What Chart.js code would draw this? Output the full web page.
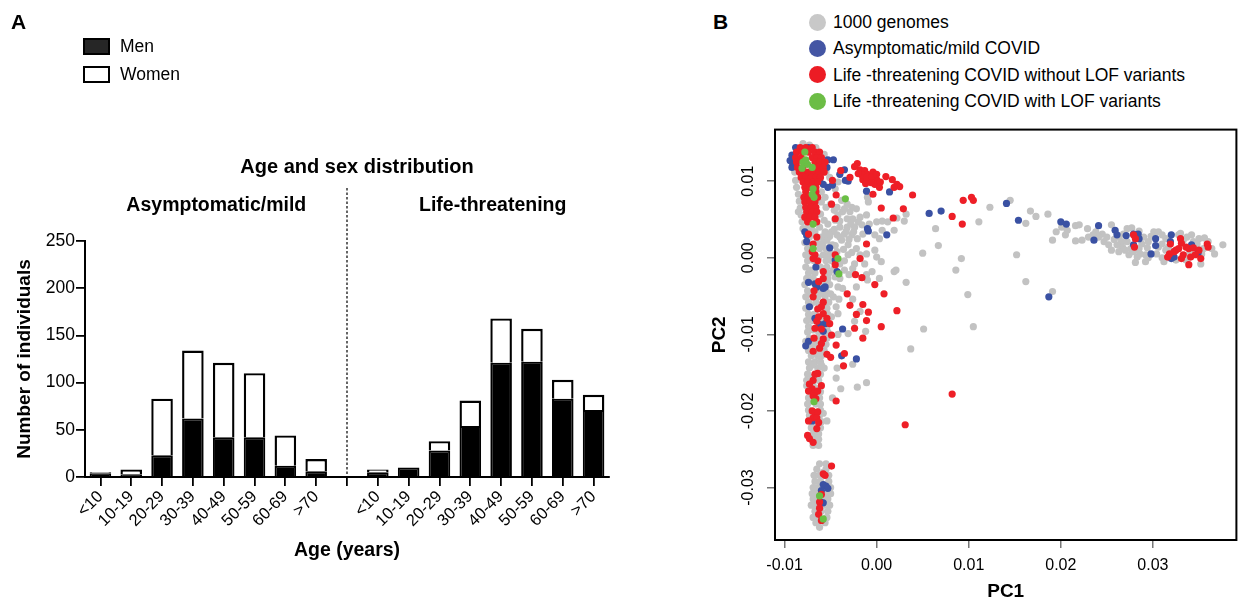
<!DOCTYPE html>
<html>
<head>
<meta charset="utf-8">
<script src="https://cdn.jsdelivr.net/npm/chart.js@4.4.0/dist/chart.umd.min.js"></script>
<style>
  body { margin: 0; background: #fff; font-family: "Liberation Sans", Arial, sans-serif; color: #000; }
  #wrap { position: relative; width: 1240px; height: 603px; overflow: hidden; }
  canvas { position: absolute; }
  .panel { position: absolute; font-weight: bold; font-size: 21px; }
  .leg { position: absolute; font-size: 17.5px; line-height: 20px; white-space: nowrap; }
  .box { position: absolute; width: 23px; height: 13px; border: 2px solid #000; }
  .dot { position: absolute; width: 17px; height: 17px; border-radius: 50%; }
</style>
</head>
<body>
<div id="wrap">
  <canvas id="ageChart" width="680" height="603" style="left:0;top:0"></canvas>
  <canvas id="pcaChart" width="540" height="483" style="left:700px;top:120px"></canvas>

  <div class="panel" style="left:11px;top:10px">A</div>
  <div class="panel" style="left:713px;top:10px">B</div>

  <div class="box" style="left:83px;top:38px;background:#262626"></div>
  <div class="leg" style="left:120px;top:36px">Men</div>
  <div class="box" style="left:83px;top:66px;background:#fff"></div>
  <div class="leg" style="left:120px;top:64px">Women</div>

  <div class="dot" style="left:809px;top:14px;background:#c8c8c8"></div>
  <div class="leg" style="left:833px;top:12px">1000 genomes</div>
  <div class="dot" style="left:809px;top:40px;background:#4456a4"></div>
  <div class="leg" style="left:833px;top:38px">Asymptomatic/mild COVID</div>
  <div class="dot" style="left:809px;top:66px;background:#ec1c24"></div>
  <div class="leg" style="left:833px;top:65px">Life -threatening COVID without LOF variants</div>
  <div class="dot" style="left:809px;top:93px;background:#6cbd45"></div>
  <div class="leg" style="left:833px;top:91px">Life -threatening COVID with LOF variants</div>
</div>
<script>
// Panel A: counts per age group
const ageGroups = ["<10", "10-19", "20-29", "30-39", "40-49", "50-59", "60-69", ">70"];
const groupNames = ["Asymptomatic/mild", "Life-threatening"];
const menMild = [4, 3, 23, 62, 42, 42, 12, 6];
const womenMild = [1, 5, 60, 72, 79, 68, 32, 13];
const menSevere = [5, 10, 28, 54, 121, 122, 83, 71];
const womenSevere = [3, 0, 10, 27, 47, 35, 20, 16];
const countTicks = [0, 50, 100, 150, 200, 250];

// Panel B: principal components [PC1, PC2]
const pc1Ticks = [-0.01, 0, 0.01, 0.02, 0.03];
const pc2Ticks = [-0.03, -0.02, -0.01, 0, 0.01];

const genomes1000 = [
  [-0.0080,0.0149],[-0.0073,0.0147],[-0.0066,0.0144],[-0.0063,0.0136],[-0.0057,0.0135],
  [-0.0089,0.0112],[-0.0088,0.0101],[-0.0087,0.0092],[-0.0085,0.0083],[-0.0084,0.0074],[-0.0083,0.0065],
  [-0.0082,0.0056],[-0.0081,0.0047],[-0.0080,0.0038],[-0.0085,0.0060],[-0.0081,0.0075],
  [-0.0055,0.0112],[-0.0051,0.0105],[-0.0060,0.0086],[-0.0056,0.0079],[-0.0060,0.0073],[-0.0055,0.0066],
  [-0.0061,0.0057],[-0.0057,0.0049],[-0.0062,0.0040],[-0.0070,0.0036],[-0.0075,0.0039],[-0.0067,0.0034],
  [-0.0042,0.0099],[-0.0045,0.0090],
  [-0.0050,0.0070],[-0.0043,0.0066],[-0.0038,0.0075],[-0.0032,0.0070],[-0.0027,0.0066],[-0.0022,0.0064],
  [-0.0029,0.0060],[-0.0037,0.0060],[-0.0042,0.0056],[-0.0032,0.0051],[-0.0026,0.0051],[-0.0018,0.0053],
  [-0.0011,0.0056],[-0.0045,0.0049],[-0.0053,0.0044],[-0.0040,0.0040],[-0.0032,0.0040],[-0.0024,0.0040],
  [-0.0016,0.0043],[-0.0008,0.0044],[0.0000,0.0047],[0.0006,0.0048],[0.0012,0.0047],[0.0019,0.0036],
  [0.0032,0.0057],[-0.0009,0.0073],[-0.0010,0.0079],
  [-0.0056,0.0034],[-0.0049,0.0034],[-0.0043,0.0030],[-0.0035,0.0031],[-0.0027,0.0030],[-0.0021,0.0025],
  [-0.0015,0.0031],[-0.0002,0.0030],[0.0003,0.0025],[-0.0038,0.0023],[-0.0054,0.0023],[-0.0048,0.0017],
  [-0.0031,0.0017],[-0.0022,0.0012],[-0.0011,0.0005],[-0.0002,0.0010],[-0.0043,0.0008],[-0.0031,0.0004],
  [-0.0040,-0.0008],[-0.0024,-0.0008],[-0.0013,-0.0008],[0.0000,0.0001],[0.0005,-0.0005],[-0.0035,-0.0016],
  [-0.0026,-0.0014],[-0.0011,-0.0022],[-0.0005,-0.0018],[0.0019,-0.0018],[0.0003,-0.0027],[-0.0040,-0.0027],
  [-0.0037,-0.0040],[-0.0022,-0.0038],[-0.0010,-0.0029],[-0.0041,-0.0054],[-0.0026,-0.0054],[-0.0018,-0.0070],
  [-0.0042,-0.0073],[-0.0024,-0.0083],
  [-0.0046,0.0062],[-0.0035,0.0064],[-0.0040,0.0048],[-0.0028,0.0045],[-0.0020,0.0047],[-0.0046,0.0037],
  [-0.0033,0.0035],[-0.0025,0.0034],[-0.0051,0.0028],[-0.0040,0.0027],[-0.0030,0.0024],[-0.0045,0.0016],
  [-0.0036,0.0011],[-0.0050,0.0006],[-0.0027,0.0007],[-0.0035,-0.0004],[-0.0018,0.0004],[-0.0030,-0.0022],
  [-0.0046,-0.0014],
  [0.0050,0.0006],[0.0067,0.0016],[0.0064,0.0038],[0.0092,-0.0001],[0.0086,-0.0016],[0.0099,-0.0048],
  [0.0105,-0.0090],[0.0111,0.0047],[0.0123,0.0066],[0.0021,-0.0016],[0.0006,0.0036],[0.0022,0.0052],
  [0.0030,0.0048],[0.0032,-0.0032],[0.0051,-0.0093],[0.0037,-0.0119],
  [0.0145,0.0075],[0.0167,0.0061],[0.0173,0.0054],[0.0162,0.0045],[0.0186,0.0057],[0.0152,0.0004],
  [0.0162,-0.0031],[0.0191,-0.0044],[0.0191,0.0023],[0.0195,0.0034],[0.0201,0.0040],
  [-0.0012,-0.0096],[-0.0031,-0.0099],[-0.0042,-0.0100],[-0.0026,-0.0139],[-0.0043,-0.0144],[-0.0044,-0.0157],
  [-0.0039,-0.0171],[-0.0021,-0.0169],[-0.0011,-0.0163],[-0.0048,-0.0183],[-0.0054,-0.0213],
  [0.0205,0.0030],[0.0207,0.0036],[0.0216,0.0042],[0.0220,0.0043],[0.0216,0.0022],[0.0223,0.0023],
  [0.0229,0.0038],[0.0238,0.0034],[0.0245,0.0031],[0.0250,0.0027],[0.0255,0.0043],[0.0255,0.0010],
  [0.0263,0.0027],[0.0266,0.0021],[0.0272,0.0038],[0.0277,0.0039],[0.0267,0.0014],[0.0274,0.0004],
  [0.0281,-0.0006],[0.0292,-0.0005],[0.0288,0.0018],[0.0294,0.0013],[0.0301,0.0034],[0.0306,0.0034],
  [0.0310,0.0018],[0.0314,0.0010],[0.0310,0.0000],[0.0328,0.0030],[0.0337,0.0027],[0.0336,-0.0003],
  [0.0342,0.0030],[0.0350,0.0025],[0.0356,0.0026],[0.0352,-0.0008],[0.0364,0.0012],[0.0367,0.0005],
  [0.0376,0.0017],[0.0285,0.0012],[0.0276,0.0012],[0.0295,0.0021],[0.0314,0.0025],[0.0355,0.0012],
  [0.0304,0.0005],[0.0292,0.0004],[0.0283,0.0001],[0.0261,0.0017],[0.0252,0.0017],[0.0241,0.0027],
  [0.0263,0.0008],[0.0230,0.0027],[0.0247,0.0021],[0.0268,0.0031],[0.0290,0.0027],[0.0306,0.0014],
  [0.0317,0.0014],[0.0333,0.0023],[0.0344,0.0021],[0.0360,0.0021],[0.0353,0.0005],[0.0325,-0.0003],
  [0.0312,-0.0005],[0.0295,0.0000],[0.0272,0.0021],[0.0279,0.0008],
  [0.0235,0.0030],[0.0258,0.0024],[0.0270,0.0010],[0.0286,0.0005],[0.0298,0.0028],[0.0320,0.0008],
  [0.0340,0.0006],[0.0348,0.0018],[0.0330,0.0032],[0.0310,0.0030],[0.0285,0.0035],
  [-0.0073,0.0027],[-0.0060,0.0027],[-0.0053,0.0027],[-0.0078,0.0020],[-0.0065,0.0020],[-0.0058,0.0020],
  [-0.0075,0.0012],[-0.0062,0.0012],[-0.0055,0.0012],[-0.0077,0.0004],[-0.0058,0.0004],[-0.0052,0.0004],
  [-0.0075,-0.0004],[-0.0068,-0.0004],[-0.0055,-0.0004],[-0.0049,-0.0004],[-0.0077,-0.0012],[-0.0061,-0.0012],
  [-0.0054,-0.0012],[-0.0074,-0.0020],[-0.0067,-0.0020],[-0.0052,-0.0020],[-0.0076,-0.0027],[-0.0069,-0.0027],
  [-0.0053,-0.0027],[-0.0078,-0.0035],[-0.0060,-0.0035],[-0.0051,-0.0035],[-0.0075,-0.0043],[-0.0062,-0.0043],
  [-0.0055,-0.0043],[-0.0077,-0.0051],[-0.0064,-0.0051],[-0.0056,-0.0051],[-0.0074,-0.0058],[-0.0066,-0.0058],
  [-0.0052,-0.0058],[-0.0077,-0.0066],[-0.0054,-0.0066],[-0.0074,-0.0074],[-0.0068,-0.0074],[-0.0053,-0.0074],
  [-0.0076,-0.0082],[-0.0070,-0.0082],[-0.0058,-0.0082],[-0.0074,-0.0090],[-0.0064,-0.0090],[-0.0054,-0.0090],
  [-0.0075,-0.0097],[-0.0063,-0.0097],[-0.0053,-0.0097],[-0.0073,-0.0105],[-0.0064,-0.0105],[-0.0054,-0.0105],
  [-0.0070,-0.0113],[-0.0066,-0.0113],[-0.0055,-0.0113],[-0.0074,-0.0121],[-0.0065,-0.0121],[-0.0057,-0.0121],
  [-0.0071,-0.0128],[-0.0064,-0.0128],[-0.0060,-0.0128],[-0.0074,-0.0136],[-0.0067,-0.0136],[-0.0061,-0.0136],
  [-0.0073,-0.0144],[-0.0064,-0.0144],[-0.0057,-0.0144],[-0.0075,-0.0152],[-0.0061,-0.0152],[-0.0076,-0.0160],
  [-0.0063,-0.0160],[-0.0076,-0.0167],[-0.0069,-0.0167],[-0.0070,-0.0175],[-0.0061,-0.0175],[-0.0074,-0.0183],
  [-0.0062,-0.0183],[-0.0075,-0.0191],[-0.0066,-0.0191],[-0.0061,-0.0191],[-0.0074,-0.0199],[-0.0061,-0.0199],
  [-0.0073,-0.0206],[-0.0062,-0.0206],[-0.0067,-0.0214],[-0.0060,-0.0214],[-0.0071,-0.0222],[-0.0061,-0.0222],
  [-0.0069,-0.0230],[-0.0063,-0.0230],[-0.0066,-0.0237],[-0.0063,-0.0237],[-0.0069,-0.0245],[-0.0063,-0.0245],
  [-0.0045,-0.0025],[-0.0042,-0.0038],[-0.0047,-0.0051],[-0.0044,-0.0064],[-0.0049,-0.0077],
  [-0.0068,0.0031],[-0.0056,0.0031],[-0.0071,0.0016],[-0.0060,0.0016],[-0.0050,0.0016],
  [-0.0072,0.0000],[-0.0063,0.0000],[-0.0053,0.0000],[-0.0072,-0.0016],[-0.0058,-0.0016],[-0.0047,-0.0016],
  [-0.0072,-0.0031],[-0.0064,-0.0031],[-0.0056,-0.0031],[-0.0071,-0.0047],[-0.0058,-0.0047],[-0.0050,-0.0047],
  [-0.0072,-0.0062],[-0.0062,-0.0062],[-0.0058,-0.0062],[-0.0072,-0.0078],[-0.0062,-0.0078],[-0.0056,-0.0078],
  [-0.0069,-0.0094],[-0.0059,-0.0094],[-0.0077,-0.0109],[-0.0069,-0.0109],[-0.0059,-0.0109],
  [-0.0068,-0.0125],[-0.0062,-0.0125],[-0.0070,-0.0140],[-0.0060,-0.0140],[-0.0070,-0.0156],[-0.0066,-0.0156],
  [-0.0073,-0.0171],[-0.0065,-0.0171],[-0.0071,-0.0187],[-0.0065,-0.0187],[-0.0069,-0.0203],[-0.0058,-0.0203],
  [-0.0070,-0.0218],[-0.0064,-0.0218],[-0.0072,-0.0234],[-0.0067,-0.0234],
  [-0.0062,-0.0269],[-0.0055,-0.0269],[-0.0065,-0.0276],[-0.0055,-0.0276],[-0.0068,-0.0284],[-0.0062,-0.0284],
  [-0.0052,-0.0284],[-0.0067,-0.0292],[-0.0061,-0.0292],[-0.0052,-0.0292],[-0.0069,-0.0300],[-0.0064,-0.0300],
  [-0.0050,-0.0300],[-0.0067,-0.0308],[-0.0054,-0.0308],[-0.0050,-0.0308],[-0.0069,-0.0315],[-0.0064,-0.0315],
  [-0.0053,-0.0315],[-0.0068,-0.0323],[-0.0056,-0.0323],[-0.0051,-0.0323],[-0.0067,-0.0331],[-0.0060,-0.0331],
  [-0.0053,-0.0331],[-0.0069,-0.0339],[-0.0065,-0.0339],[-0.0054,-0.0339],[-0.0066,-0.0346],[-0.0056,-0.0346],
  [-0.0062,-0.0352],[-0.0058,-0.0280],[-0.0059,-0.0296],[-0.0057,-0.0312],[-0.0063,-0.0327],[-0.0058,-0.0343],
  [-0.0070,-0.0308],[-0.0071,-0.0323]
];

const mildCovid = [
  [-0.0088,0.0144],[-0.0074,0.0144],[-0.0092,0.0134],[-0.0091,0.0122],[-0.0094,0.0127],[-0.0092,0.0118],
  [-0.0062,0.0128],[-0.0053,0.0128],[-0.0047,0.0128],[-0.0054,0.0118],[-0.0048,0.0095],[-0.0053,0.0092],
  [-0.0062,0.0101],[-0.0058,0.0096],[-0.0040,0.0109],[-0.0035,0.0115],[-0.0034,0.0101],[-0.0031,0.0100],
  [-0.0011,0.0087],[0.0014,0.0086],[0.0057,0.0058],[0.0070,0.0061],[0.0141,0.0071],[0.0154,0.0049],
  [0.0200,0.0047],[0.0206,0.0044],[-0.0010,0.0038],[-0.0009,0.0035],[0.0011,0.0030],[-0.0051,0.0013],
  [-0.0078,0.0034],[-0.0076,0.0029],[-0.0076,0.0021],[-0.0045,-0.0003],[-0.0043,-0.0018],[-0.0066,-0.0012],
  [-0.0074,-0.0032],[-0.0067,-0.0034],[-0.0065,-0.0038],[-0.0056,-0.0038],[-0.0058,-0.0040],[-0.0073,-0.0064],
  [-0.0067,-0.0079],[-0.0056,-0.0086],[-0.0062,-0.0087],[-0.0037,-0.0093],[-0.0058,-0.0096],[-0.0074,-0.0109],
  [-0.0077,-0.0115],[-0.0038,-0.0128],[-0.0022,-0.0132],[-0.0070,-0.0213],[-0.0058,-0.0296],[-0.0055,-0.0298],
  [-0.0053,-0.0301],[-0.0060,-0.0304],[-0.0061,-0.0319],[-0.0058,-0.0320],[0.0187,-0.0051],
  [0.0241,0.0042],[0.0236,0.0023],[0.0259,0.0036],[0.0261,0.0030],[0.0271,0.0029],[0.0279,0.0031],
  [0.0284,0.0031],[0.0285,0.0025],[0.0303,0.0025],[0.0303,0.0016],[0.0279,0.0017],[0.0298,0.0005],
  [0.0320,0.0030],[0.0319,0.0021],[0.0323,0.0001],[0.0320,-0.0001],[0.0342,0.0017],[0.0349,0.0006]
];

const severeNoLof = [
  [-0.0083,0.0144],[-0.0077,0.0144],[-0.0070,0.0144],
  [-0.0087,0.0138],[-0.0081,0.0138],[-0.0074,0.0138],[-0.0067,0.0138],[-0.0062,0.0138],
  [-0.0088,0.0131],[-0.0082,0.0131],[-0.0070,0.0131],[-0.0065,0.0131],[-0.0060,0.0131],
  [-0.0087,0.0125],[-0.0067,0.0125],[-0.0062,0.0125],[-0.0056,0.0125],
  [-0.0086,0.0118],[-0.0080,0.0118],[-0.0064,0.0118],[-0.0058,0.0118],
  [-0.0084,0.0112],[-0.0079,0.0112],[-0.0074,0.0112],[-0.0068,0.0112],[-0.0063,0.0112],[-0.0057,0.0112],
  [-0.0082,0.0105],[-0.0077,0.0105],[-0.0071,0.0105],[-0.0066,0.0105],[-0.0061,0.0105],
  [-0.0080,0.0099],[-0.0075,0.0099],[-0.0069,0.0099],[-0.0064,0.0099],
  [-0.0078,0.0092],[-0.0072,0.0092],[-0.0066,0.0092],[-0.0077,0.0086],[-0.0066,0.0086],
  [-0.0079,0.0079],[-0.0074,0.0079],[-0.0064,0.0079],[-0.0078,0.0073],[-0.0072,0.0073],[-0.0067,0.0073],
  [-0.0077,0.0066],[-0.0071,0.0066],[-0.0066,0.0066],[-0.0076,0.0060],[-0.0070,0.0060],[-0.0065,0.0060],
  [-0.0078,0.0053],[-0.0072,0.0053],[-0.0067,0.0053],[-0.0075,0.0047],[-0.0065,0.0047],
  [-0.0021,0.0123],[-0.0018,0.0115],[-0.0013,0.0114],[-0.0010,0.0109],[-0.0004,0.0112],[0.0000,0.0102],
  [-0.0008,0.0101],[-0.0015,0.0102],[-0.0002,0.0096],[0.0003,0.0092],[-0.0016,0.0108],[-0.0011,0.0105],
  [-0.0005,0.0106],[0.0000,0.0109],[0.0010,0.0106],[0.0017,0.0102],[0.0022,0.0096],[0.0025,0.0093],
  [0.0019,0.0092],[0.0039,0.0082],[-0.0024,0.0119],[-0.0020,0.0110],[-0.0006,0.0098],[-0.0012,0.0097],
  [0.0004,0.0099],[-0.0039,0.0114],[-0.0029,0.0105],[-0.0048,0.0101],[-0.0044,0.0082],[-0.0049,0.0070],
  [-0.0004,0.0083],[0.0005,0.0065],[0.0029,0.0064],[0.0018,0.0052],[0.0082,0.0054],[0.0093,0.0044],
  [0.0094,0.0075],[0.0103,0.0079],[0.0105,0.0075],[-0.0045,0.0051],[-0.0011,0.0018],[-0.0018,-0.0001],
  [-0.0045,0.0004],[-0.0065,0.0027],[-0.0069,0.0018],[-0.0074,0.0031],[-0.0070,0.0008],[-0.0067,0.0004],
  [-0.0064,-0.0004],[-0.0069,-0.0001],[-0.0045,-0.0009],[-0.0023,-0.0022],[-0.0016,-0.0026],[-0.0002,-0.0035],
  [0.0008,-0.0047],[-0.0032,-0.0047],[-0.0029,-0.0062],[-0.0022,-0.0074],[-0.0015,-0.0061],[-0.0009,-0.0071],
  [-0.0011,-0.0082],[0.0005,-0.0090],[-0.0024,-0.0092],[-0.0015,-0.0105],[0.0022,-0.0069],
  [-0.0058,-0.0018],[-0.0058,-0.0027],[-0.0063,-0.0031],[-0.0068,-0.0043],[-0.0069,-0.0051],[-0.0058,-0.0058],
  [-0.0060,-0.0064],[-0.0064,-0.0067],[-0.0058,-0.0073],[-0.0063,-0.0077],[-0.0054,-0.0079],[-0.0051,-0.0086],
  [-0.0065,-0.0083],[-0.0067,-0.0092],[-0.0060,-0.0093],[-0.0049,-0.0101],[-0.0068,-0.0105],[-0.0058,-0.0106],
  [-0.0069,-0.0122],[-0.0060,-0.0112],[-0.0062,-0.0118],[-0.0044,-0.0114],[-0.0054,-0.0126],[-0.0050,-0.0130],
  [-0.0035,-0.0125],[-0.0036,-0.0141],
  [-0.0067,-0.0152],[-0.0064,-0.0151],[-0.0069,-0.0160],[-0.0073,-0.0165],[-0.0070,-0.0171],[-0.0074,-0.0174],
  [-0.0067,-0.0176],[-0.0064,-0.0174],[-0.0060,-0.0167],[-0.0069,-0.0180],[-0.0066,-0.0184],[-0.0044,-0.0187],
  [-0.0070,-0.0200],[-0.0067,-0.0202],[-0.0064,-0.0201],[-0.0069,-0.0209],[-0.0065,-0.0209],[-0.0074,-0.0213],
  [-0.0063,-0.0215],[-0.0065,-0.0223],[-0.0075,-0.0232],[-0.0073,-0.0236],[-0.0069,-0.0241],
  [0.0082,-0.0178],[0.0031,-0.0218],
  [-0.0049,-0.0272],[-0.0058,-0.0282],[-0.0056,-0.0284],[-0.0060,-0.0309],[-0.0062,-0.0319],[-0.0062,-0.0327],
  [-0.0063,-0.0335],[-0.0060,-0.0343],
  [0.0279,0.0030],[0.0281,0.0025],[0.0280,0.0014],[0.0319,0.0018],[0.0330,0.0025],[0.0331,0.0019],
  [0.0328,0.0012],[0.0325,0.0010],[0.0318,0.0005],[0.0316,0.0001],[0.0323,0.0008],[0.0333,0.0004],
  [0.0336,0.0014],[0.0339,0.0012],[0.0344,0.0013],[0.0350,0.0010],[0.0341,0.0001],[0.0346,0.0004],
  [0.0352,-0.0001],[0.0339,-0.0009],[0.0359,0.0018],[0.0360,0.0014],[0.0331,-0.0001]
];

const severeLof = [
  [-0.0078,0.0138],[-0.0080,0.0125],[-0.0075,0.0122],[-0.0070,0.0118],[-0.0081,0.0117],[-0.0077,0.0128],
  [-0.0069,0.0090],[-0.0070,0.0083],[-0.0068,0.0079],[-0.0034,0.0077],[-0.0069,0.0044],[-0.0069,0.0012],
  [-0.0042,-0.0001],[-0.0041,-0.0021],[-0.0068,-0.0188],[-0.0062,-0.0311],[-0.0058,-0.0341]
];

const FONT = '"Liberation Sans", Arial, sans-serif';

// one category axis: left group, empty slot, right group
const axisLabels = [...ageGroups, "", ...ageGroups];
const menAll = [...menMild, null, ...menSevere];
const womenAll = [...womenMild, null, ...womenSevere];

const groupLabels = {
    id: "groupLabels",
    afterDraw(chart) {
        const { ctx, chartArea, scales: { x } } = chart;
        const sep = x.getPixelForValue(8);
        ctx.save();
        ctx.strokeStyle = "#000";
        ctx.lineWidth = 1.2;
        ctx.setLineDash([2.5, 2]);
        ctx.beginPath();
        ctx.moveTo(sep, 188);
        ctx.lineTo(sep, chartArea.bottom);
        ctx.stroke();
        ctx.setLineDash([]);
        ctx.fillStyle = "#000";
        ctx.textAlign = "center";
        ctx.textBaseline = "middle";
        ctx.font = "bold 20px " + FONT;
        ctx.fillText("Age and sex distribution", (chartArea.left + chartArea.right) / 2 + 10, 167);
        ctx.font = "bold 19.5px " + FONT;
        ctx.fillText(groupNames[0], (x.getPixelForValue(0) + x.getPixelForValue(7)) / 2 + 8, 206);
        ctx.fillText(groupNames[1], (x.getPixelForValue(9) + x.getPixelForValue(16)) / 2 + 7, 206);
        ctx.restore();
    }
};

new Chart(document.getElementById("ageChart"), {
    type: "bar",
    data: {
        labels: axisLabels,
        datasets: [{
            label: "Men",
            data: menAll,
            backgroundColor: "#000",
            borderColor: "#000",
            borderWidth: 2
        },
        {
            label: "Women",
            data: womenAll,
            backgroundColor: "#fff",
            borderColor: "#000",
            borderWidth: 2.4
        }]
    },
    options: {
        responsive: false,
        animation: false,
        layout: { padding: { top: 241, right: 71, bottom: 36, left: 0 } },
        datasets: { bar: { barPercentage: 0.7, categoryPercentage: 1 } },
        plugins: { legend: { display: false }, tooltip: { enabled: false } },
        scales: {
            x: {
                stacked: true,
                grid: { offset: false, drawOnChartArea: false, tickLength: 9, color: "#000", lineWidth: 1.8 },
                border: { color: "#000", width: 2 },
                ticks: { autoSkip: false, minRotation: 45, maxRotation: 45, color: "#000", padding: 1, font: { family: FONT, size: 16.5 } },
                title: { display: true, text: "Age (years)", color: "#000", padding: { top: 0, bottom: 5 }, font: { family: FONT, size: 19.5, weight: "bold" } },
                afterFit(scale) { scale.height = 90; }
            },
            y: {
                stacked: true,
                min: 0,
                max: 250,
                afterBuildTicks(scale) { scale.ticks = countTicks.map(v => ({ value: v })); },
                grid: { drawOnChartArea: false, tickLength: 9, color: "#000", lineWidth: 1.8 },
                border: { color: "#000", width: 2 },
                ticks: { color: "#000", padding: 1, font: { family: FONT, size: 17.5 } },
                title: { display: true, text: "Number of individuals", color: "#000", padding: { top: 13, bottom: 0 }, font: { family: FONT, size: 19, weight: "bold" } },
                afterFit(scale) { scale.width = 85; }
            }
        }
    },
    plugins: [groupLabels]
});

const frameBox = {
    id: "frameBox",
    afterDraw(chart) {
        const { ctx, chartArea: a } = chart;
        ctx.save();
        ctx.strokeStyle = "#000";
        ctx.lineWidth = 2;
        ctx.strokeRect(a.left, a.top, a.right - a.left, a.bottom - a.top);
        ctx.restore();
    }
};

const toXY = (pts) => pts.map(p => ({ x: p[0], y: p[1] }));

new Chart(document.getElementById("pcaChart"), {
    type: "scatter",
    data: {
        datasets: [
            { label: "1000 genomes", data: toXY(genomes1000), backgroundColor: "#c2c2c2", order: 4 },
            { label: "Asymptomatic/mild COVID", data: toXY(mildCovid), backgroundColor: "#3a51a3", order: 3 },
            { label: "Life -threatening COVID without LOF variants", data: toXY(severeNoLof), backgroundColor: "#ee1f27", order: 2 },
            { label: "Life -threatening COVID with LOF variants", data: toXY(severeLof), backgroundColor: "#6abf45", order: 1 }
        ]
    },
    options: {
        responsive: false,
        animation: false,
        layout: { padding: { top: 7, right: 2, bottom: 0, left: 0 } },
        elements: { point: { radius: 3.6, hoverRadius: 3.6, borderWidth: 0 } },
        plugins: { legend: { display: false }, tooltip: { enabled: false } },
        scales: {
            x: {
                type: "linear",
                min: -0.01104,
                max: 0.03907,
                afterBuildTicks(scale) { scale.ticks = pc1Ticks.map(v => ({ value: v })); },
                grid: { drawOnChartArea: false, tickLength: 8, color: "#777", lineWidth: 1.5 },
                border: { display: false },
                ticks: { color: "#000", padding: 8, callback: v => v.toFixed(2), font: { family: FONT, size: 16 } },
                title: { display: true, text: "PC1", color: "#000", padding: { top: 0, bottom: 0 }, font: { family: FONT, size: 19, weight: "bold" } },
                afterFit(scale) { scale.height = 63; }
            },
            y: {
                type: "linear",
                min: -0.03685,
                max: 0.01674,
                afterBuildTicks(scale) { scale.ticks = pc2Ticks.map(v => ({ value: v })); },
                grid: { drawOnChartArea: false, tickLength: 8, color: "#777", lineWidth: 1.5 },
                border: { display: false },
                ticks: { color: "#000", padding: 0, minRotation: 90, maxRotation: 90, crossAlign: "center", callback: v => v.toFixed(2), font: { family: FONT, size: 16 } },
                title: { display: true, text: "PC2", color: "#000", padding: { top: 8, bottom: 0 }, font: { family: FONT, size: 19, weight: "bold" } },
                afterFit(scale) { scale.width = 75; }
            }
        }
    },
    plugins: [frameBox]
});
</script>
</body>
</html>
